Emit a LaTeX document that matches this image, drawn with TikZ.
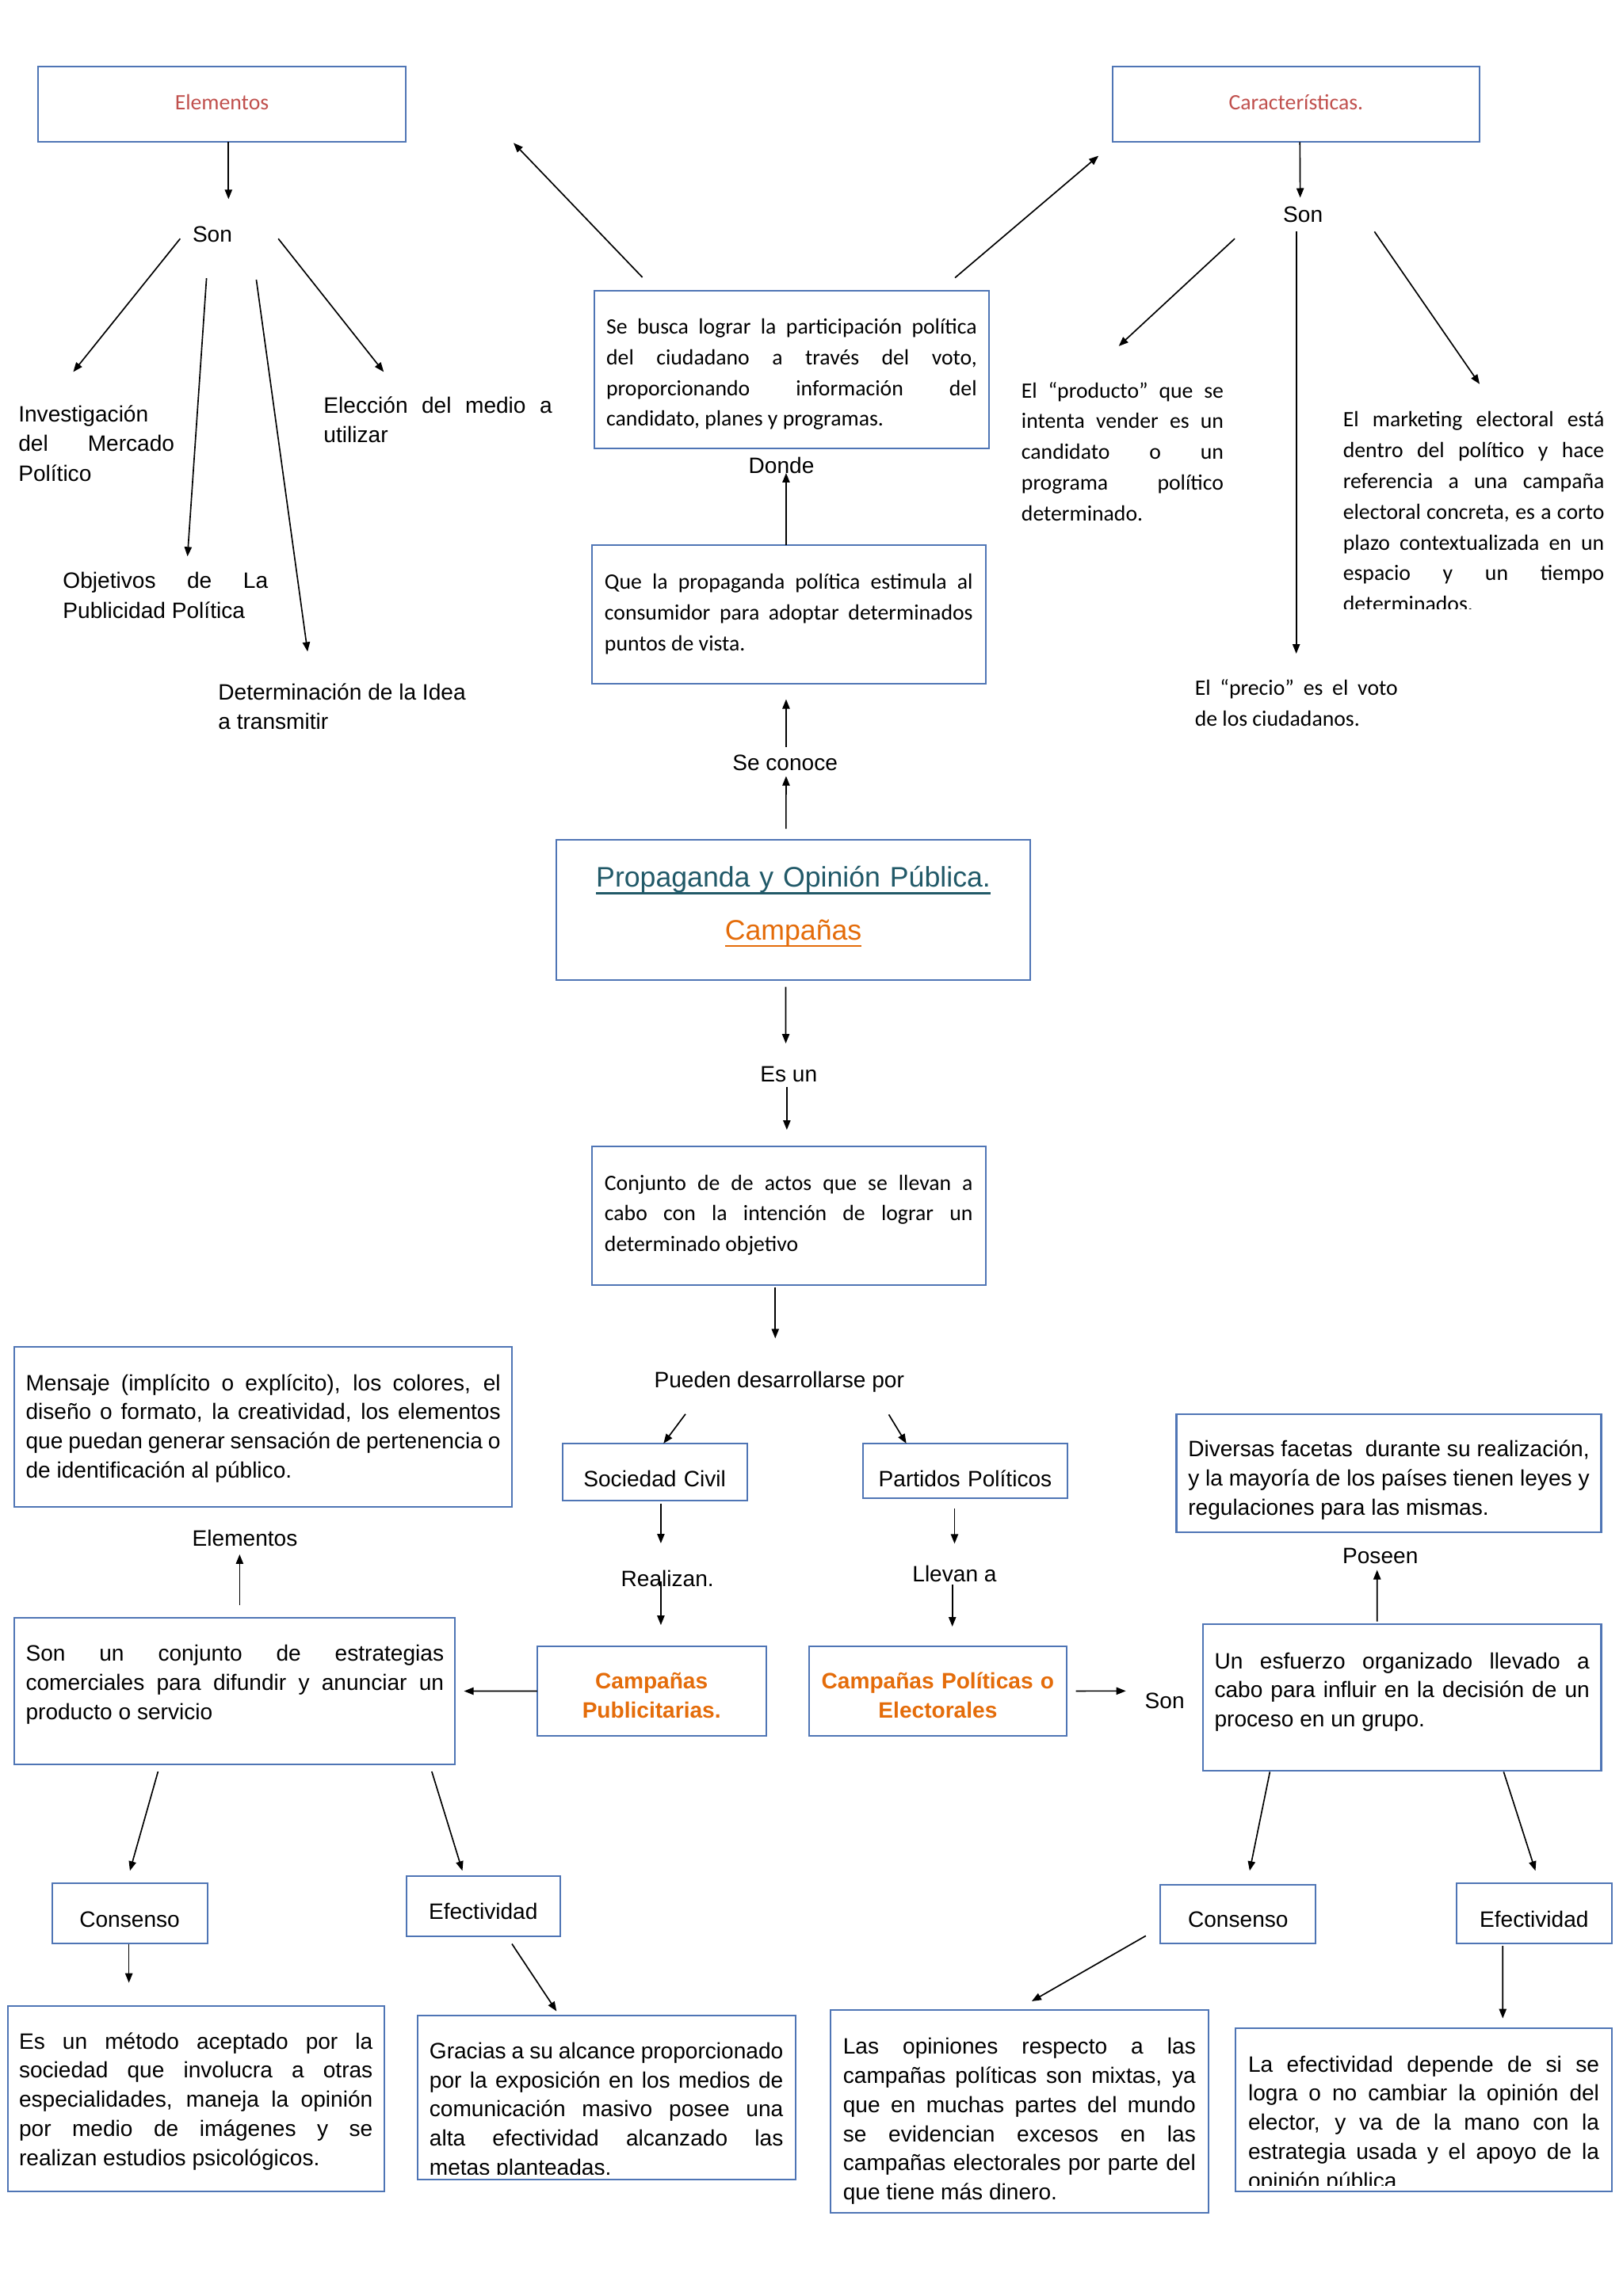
\documentclass[tikz,border=0pt]{standalone}
\usepackage{fontspec}
\setmainfont{Liberation Sans}
\newfontfamily\calib{Carlito}
\usetikzlibrary{arrows.meta,calc}
\definecolor{boxblue}{HTML}{4F75B5}
\definecolor{elemred}{HTML}{C0504D}
\definecolor{titteal}{HTML}{215968}
\definecolor{camporange}{HTML}{E46C0A}
\newcommand{\labfont}{\fontsize{15.2}{20.3}\selectfont}
\newcommand{\boxfont}{\fontsize{15.2}{19.9}\selectfont}
\newcommand{\calfont}{\calib\fontsize{15}{21}\selectfont}
\newlength{\ulbarw}
\newcommand{\ulbar}[1]{\settowidth{\ulbarw}{#1}\rlap{#1}\rule[-4.9pt]{\ulbarw}{1.3pt}}

\begin{document}
\begin{tikzpicture}[
    x=1pt, y=-1pt,
    arr/.style={
        -{Triangle[length=6.5pt,width=5pt]}, line width=0.9pt
    },
    shapebox/.style={
        anchor=north west, inner ysep=0pt, outer sep=0pt
    },
    box/.style={
        shapebox, draw=boxblue, line width=1.1pt
    },
    boxline/.style={
        draw=boxblue, line width=1.1pt
    },
    hub/.style={
        box, align=center, inner xsep=0pt
    },
    para/.style={
        align=justify, font=\boxfont
    },
    lbl/.style={
        inner sep=0pt, outer sep=0pt, font=\labfont
    },
    note/.style={
        anchor=base west, inner sep=0pt, outer sep=0pt, align=justify
    }
]
\useasboundingbox (0,0) rectangle (1108,1568);

% --- top left: Elementos ---
\node[hub, font=\calfont, text=elemred, text width=251pt, text height=29.3pt, text depth=22.2pt] (elem) at (26,45.5) {Elementos};
\node[lbl] (son1) at (145,160) {Son};
\node[note, font=\labfont, text width=106.5pt] (invest) at (12.6,288) {Investigación del Mercado Político};
\node[note, font=\labfont, text width=140pt] (object) at (43,402) {Objetivos de La\linebreak Publicidad Política};
\node[note, font=\labfont, text width=172pt] (determ) at (149,478) {Determinación de la Idea\\a transmitir};
\node[note, font=\labfont, text width=156pt] (elecc) at (221,282) {Elección del medio a\linebreak utilizar};

% --- top centre, going up from the title ---
\node[box, font=\calfont, align=justify, inner xsep=8pt, text width=253pt, text height=29.6pt, text depth=78.2pt] (busca) at (406,198.4)
  {Se busca lograr la participación política\linebreak del ciudadano a través del voto,\linebreak proporcionando información del\linebreak candidato, planes y programas.};
\node[lbl] (donde) at (533.5,318) {Donde};
\node[box, font=\calfont, align=justify, inner xsep=8.8pt, text width=251.4pt, text height=29.9pt, text depth=64.6pt] (estimula) at (404,372.5)
  {Que la propaganda política estimula al\linebreak consumidor para adoptar determinados\linebreak puntos de vista.};
\node[lbl] (seconoce) at (536,521) {Se conoce};
\node[hub, font=\fontsize{19.3}{36}\selectfont, text width=323.3pt, text height=32.2pt, text depth=63.7pt] (titulo) at (380,573.5)
  {\textcolor{titteal}{\ulbar{Propaganda y Opinión Pública.}}\\\textcolor{camporange}{\ulbar{Campañas}}};
\node[lbl] (esun) at (538.5,733.6) {Es un};
\node[box, font=\calfont, align=justify, inner xsep=8.8pt, text width=251.4pt, text height=29.8pt, text depth=65.1pt] (conjunto) at (404,782.9)
  {Conjunto de de actos que se llevan a\linebreak cabo con la intención de lograr un\linebreak determinado objetivo};

% --- top right: Caracteristicas ---
\node[hub, font=\calfont, text=elemred, text width=250.4pt, text height=29.2pt, text depth=22.3pt] (caract) at (759.6,45.5) {Características.};
\node[lbl] (son2) at (889.6,146.5) {Son};
\node[note, font=\calfont, text width=138pt] (product) at (697.4,271.7)
  {El “producto” que se\linebreak intenta vender es un\linebreak candidato o un\linebreak programa político\linebreak determinado.};
\node[note, font=\calfont, text width=138.5pt] (precio) at (815.8,475) {El “precio” es el voto\linebreak de los ciudadanos.};
\begin{scope}
  \clip (900,250) rectangle (1108,416);
  \node[note, font=\calfont, text width=178.3pt] (market) at (917,291.5)
    {El marketing electoral está\linebreak dentro del político y hace\linebreak referencia a una campaña\linebreak electoral concreta, es a corto\linebreak plazo contextualizada en un\linebreak espacio y un tiempo\linebreak determinados.};
\end{scope}

% --- middle: who runs the campaigns ---
\node[lbl] (pueden) at (532,944) {Pueden desarrollarse por};
\node[hub, font=\boxfont, text width=126pt, text height=29.3pt, text depth=9.4pt] (sociedad) at (384,985.8) {Sociedad Civil};
\node[hub, font=\boxfont, text width=140pt, text height=29.3pt, text depth=8.2pt] (partidos) at (589,985.8) {Partidos Políticos};
\node[lbl] (realizan) at (455.7,1078) {Realizan.};
\node[lbl] (llevan) at (651.7,1074.7) {Llevan a};
\node[hub, font=\boxfont\bfseries, text=camporange, text width=156.3pt, text height=29.2pt, text depth=32.1pt] (cpub) at (366.7,1124.2) {Campañas\\Publicitarias.};
\node[hub, font=\boxfont\bfseries, text=camporange, text width=175.4pt, text height=29.2pt, text depth=32.1pt] (cpol) at (552.6,1124.2) {Campañas Políticas o\\Electorales};
\node[lbl] (son4) at (795.2,1161.5) {Son};

% --- lower left: publicity campaigns ---
\node[box, para, inner xsep=7.7pt, text width=324.2pt, text height=29.6pt, text depth=79.7pt] (mensaje) at (9.9,920)
  {Mensaje (implícito o explícito), los colores, el\linebreak diseño o formato, la creatividad, los elementos\linebreak que puedan generar sensación de pertenencia o\linebreak de identificación al público.};
\node[lbl] (elemlbl) at (167.2,1050.5) {Elementos};
\node[box, para, inner xsep=7.7pt, text width=285.5pt, text height=29.5pt, text depth=70.3pt] (estrat) at (9.9,1105)
  {Son un conjunto de estrategias\linebreak comerciales para difundir y anunciar un\linebreak producto o servicio};
\node[hub, font=\boxfont, text width=106pt, text height=29.8pt, text depth=11.2pt] (consL) at (35.5,1286.1) {Consenso};
\node[hub, font=\boxfont, text width=105.2pt, text height=29.7pt, text depth=11.3pt] (effL) at (277.3,1281.2) {Efectividad};
\node[box, para, inner xsep=7.7pt, text width=241.5pt, text height=29.4pt, text depth=97.5pt] (metodo) at (5.3,1369.8)
  {Es un método aceptado por la\linebreak sociedad que involucra a otras\linebreak especialidades, maneja la opinión\linebreak por medio de imágenes y se\linebreak realizan estudios psicológicos.};
\begin{scope}
  \clip (280,1370) rectangle (550,1485);
  \node[shapebox, para, inner xsep=8.2pt, text width=241.6pt, text height=29.7pt, text depth=82.3pt] (gracias) at (285,1376.2)
    {Gracias a su alcance proporcionado\linebreak por la exposición en los medios de\linebreak comunicación masivo posee una\linebreak alta efectividad alcanzado las\linebreak metas planteadas.};
\end{scope}
\draw[boxline] (gracias.north west) rectangle (gracias.south east);

% --- lower right: political campaigns ---
\node[box, para, inner xsep=8pt, text width=274pt, text height=29.1pt, text depth=51.5pt] (diversas) at (803.2,965.9)
  {Diversas facetas\ \ durante su realización,\linebreak y la mayoría de los países tienen leyes y\linebreak regulaciones para las mismas.};
\node[lbl] (poseen) at (942.4,1062.6) {Poseen};
\node[box, para, inner xsep=7.9pt, text width=256.1pt, text height=30.3pt, text depth=69.5pt] (esfuerzo) at (821.3,1109.2)
  {Un esfuerzo organizado llevado a\linebreak cabo para influir en la decisión de un\linebreak proceso en un grupo.};
\node[hub, font=\boxfont, text width=106pt, text height=29.3pt, text depth=10.8pt] (consR) at (792.3,1287) {Consenso};
\node[hub, font=\boxfont, text width=106pt, text height=30.2pt, text depth=10.8pt] (effR) at (994.4,1286.1) {Efectividad};
\node[box, para, inner xsep=8.6pt, text width=240.8pt, text height=30.2pt, text depth=108.4pt] (opiniones) at (567,1372.6)
  {Las opiniones respecto a las\linebreak campañas políticas son mixtas, ya\linebreak que en muchas partes del mundo\linebreak se evidencian excesos en las\linebreak campañas electorales por parte del\linebreak que tiene más dinero.};
\begin{scope}
  \clip (838,1380) rectangle (1106,1492.7);
  \node[shapebox, para, inner xsep=8.5pt, text width=239.7pt, text height=29.9pt, text depth=81.9pt] (efectiv) at (843.7,1385)
    {La efectividad depende de si se\linebreak logra o no cambiar la opinión del\linebreak elector, y va de la mano con la\linebreak estrategia usada y el apoyo de la\linebreak opinión pública};
\end{scope}
\draw[boxline] (efectiv.north west) rectangle (efectiv.south east);

% --- arrows, top part ---
\draw[arr] ($(elem.south)+(4.5,0)$) -- ($(son1)+(11,-24)$);
\draw[arr] ($(son1)+(-22,3)$) -- ($(invest.base west)+(37.4,-34)$);
\draw[arr] ($(son1)+(-4,30)$) -- ($(object.base west)+(85,-22)$);
\draw[arr] ($(son1)+(30,31)$) -- ($(determ.base west)+(61,-33)$);
\draw[arr] ($(son1)+(45,3)$) -- ($(elecc.base west)+(41,-28)$);
\draw[arr] ($(busca.north west)+(32.6,-9)$) -- ($(elem.south east)+(73.6,0.6)$);
\draw[arr] ($(busca.north east)+(-23,-8.7)$) -- ($(caract.south west)+(-9.6,9.4)$);
\draw[arr] ($(caract.south)+(2.7,0)$) -- ($(son2)+(-1.9,-11.5)$);
\draw[arr] ($(son2)+(-46.6,16.5)$) -- ($(product.base west)+(66.4,-35.3)$);
\draw[arr] ($(son2)+(-4.6,11.7)$) -- ($(precio.base west)+(69.2,-28.6)$);
\draw[arr] ($(son2)+(48.8,11.7)$) -- ($(market.base west)+(93.2,-29.2)$);
\draw[arr] ($(estimula.north)+(-1.8,0)$) -- ($(donde)+(3.2,5)$);
\draw[arr] ($(seconoce)+(0.7,-11)$) -- ($(estimula.south)+(-1.8,10.5)$);
\draw[arr] ($(titulo.north)+(-5,-7.5)$) -- ($(seconoce)+(0.7,9)$);
\draw[arr] ($(titulo.south)+(-5.2,4.6)$) -- ($(esun)+(-2,-21)$);
\draw[arr] ($(esun)+(-1.3,9)$) -- ($(conjunto.north)+(-1.3,-11.3)$);
\draw[arr] ($(conjunto.south)+(-9.2,1.2)$) -- ($(pueden)+(-2.7,-30)$);

% --- arrows, middle ---
\draw[arr] ($(pueden)+(-64,21.7)$) -- ($(sociedad.north)+(6,0)$);
\draw[arr] ($(pueden)+(74.8,22)$) -- ($(partidos.north)+(-40.2,0)$);
\draw[arr] ($(sociedad.south)+(4.2,2.5)$) -- ($(realizan)+(-4.5,-24)$);
\draw[arr] ($(realizan)+(-4.5,2)$) -- ($(cpub.north)+(6.35,-14.4)$);
\draw[arr] ($(partidos.south)+(-7.3,7)$) -- ($(llevan)+(0,-20.5)$);
\draw[arr] ($(llevan)+(-1.5,7.3)$) -- ($(cpol.north)+(9.9,-13.4)$);
\draw[arr] (cpub.west) -- ($(estrat.east)+(6,0)$);
\draw[arr] ($(cpol.east)+(6.5,0)$) -- ($(son4)+(-26.5,-6.7)$);
\draw[arr] ($(estrat.north)+(3.25,-8.7)$) -- ($(elemlbl)+(-3.6,11)$);
\draw[arr] ($(esfuerzo.north)+(-17,-1.8)$) -- ($(poseen)+(-2.2,9.5)$);

% --- arrows, bottom part ---
\draw[arr] ($(estrat.south west)+(98,5)$) -- ($(consL.north)+(0.2,-8.5)$);
\draw[arr] ($(estrat.south east)+(-16,5)$) -- ($(effL.north)+(-14.2,-3.6)$);
\draw[arr] ($(consL.south)+(-0.5,0.4)$) -- ($(metodo.north)+(-45.75,-15.7)$);
\draw[arr] ($(effL.south)+(19.6,5.3)$) -- ($(gracias.north)+(-34,-2.7)$);
\draw[arr] ($(esfuerzo.south west)+(45.7,1)$) -- ($(consR.north)+(7.9,-9.4)$);
\draw[arr] ($(esfuerzo.south east)+(-66.6,1)$) -- ($(effR.north)+(0.9,-8.5)$);
\draw[arr] ($(consR.south west)+(-10,-5.1)$) -- ($(opiniones.north)+(8.4,-5.9)$);
\draw[arr] ($(effR.south)+(-21.4,1.8)$) -- ($(efectiv.north)+(53.95,-6.6)$);

\end{tikzpicture}
\end{document}
